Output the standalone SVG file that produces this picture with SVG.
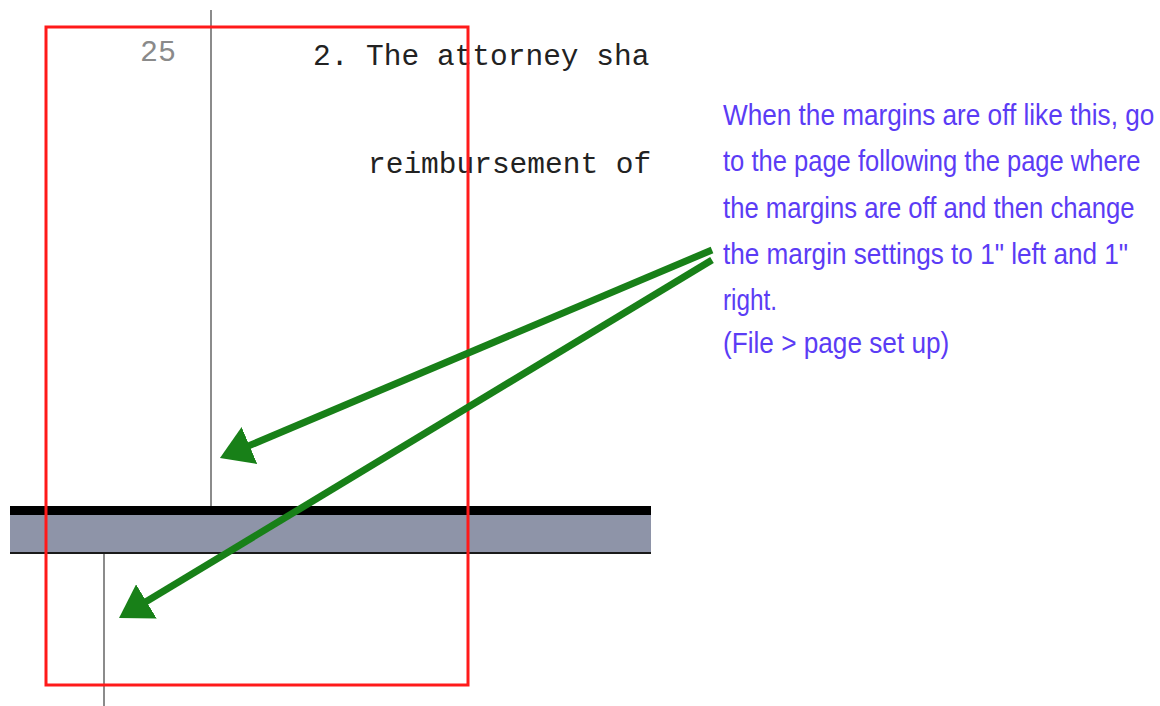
<svg xmlns="http://www.w3.org/2000/svg" width="1160" height="706" viewBox="0 0 1160 706">
  <style>
    .doc { font-family: "Liberation Mono", "Courier New", monospace; font-size: 29.5px; fill: #222; }
    .lineno { font-family: "Liberation Mono", "Courier New", monospace; font-size: 30px; fill: #8a8a8a; }
    .note { font-family: "Liberation Sans", Arial, sans-serif; font-size: 30px; fill: #5b3cf5; }
    .rule { stroke: #5a5a5a; stroke-width: 1.4; }
    .arrow { stroke: #188018; stroke-width: 7; fill: none; marker-end: url(#head); }
  </style>
  <defs>
    <marker id="head" viewBox="0 0 32 40" refX="20" refY="20" markerUnits="userSpaceOnUse" markerWidth="32" markerHeight="40" orient="auto">
      <path d="M0,0 L32,20 L0,40 Z" fill="#188018"/>
    </marker>
    <clipPath id="pageClip">
      <rect x="0" y="0" width="651" height="706"/>
    </clipPath>
  </defs>

  <rect width="1160" height="706" fill="#ffffff"/>

  <!-- document page -->
  <g id="page" clip-path="url(#pageClip)">
    <line class="rule" x1="211" y1="10" x2="211" y2="507"/>
    <text class="lineno" x="140" y="61">25</text>
    <text class="doc" x="313" y="65">2. The attorney sha</text>
    <text class="doc" x="368" y="173">reimbursement of</text>
  </g>

  <!-- page break bar -->
  <g id="page-break">
    <rect x="10" y="506" width="641" height="9" fill="#000000"/>
    <rect x="10" y="515" width="641" height="38" fill="#8e94a8"/>
    <rect x="10" y="552" width="641" height="2" fill="#1a1a1a"/>
    <line class="rule" x1="104" y1="554" x2="104" y2="706"/>
  </g>

  <!-- highlighted margin region -->
  <g id="highlight">
    <rect x="46" y="27" width="422" height="658" fill="none" stroke="#ff1a1a" stroke-width="3"/>
  </g>

  <!-- explanatory note, set in a horizontally condensed face -->
  <g id="note" transform="translate(723,0) scale(0.82,1)">
    <text class="note" x="0" y="125" textLength="526" lengthAdjust="spacingAndGlyphs">When the margins are off like this, go</text>
    <text class="note" x="0" y="171" textLength="509" lengthAdjust="spacingAndGlyphs">to the page following the page where</text>
    <text class="note" x="0" y="218" textLength="502" lengthAdjust="spacingAndGlyphs">the margins are off and then change</text>
    <text class="note" x="0" y="264" textLength="494" lengthAdjust="spacingAndGlyphs">the margin settings to 1" left and 1"</text>
    <text class="note" x="0" y="310" textLength="66" lengthAdjust="spacingAndGlyphs">right.</text>
    <text class="note" x="0" y="353" textLength="276" lengthAdjust="spacingAndGlyphs">(File &gt; page set up)</text>
  </g>

  <!-- connectors -->
  <g id="connectors">
    <line class="arrow" x1="712" y1="250" x2="231" y2="453.3"/>
    <line class="arrow" x1="712" y1="260" x2="129.3" y2="611.8"/>
  </g>
</svg>
